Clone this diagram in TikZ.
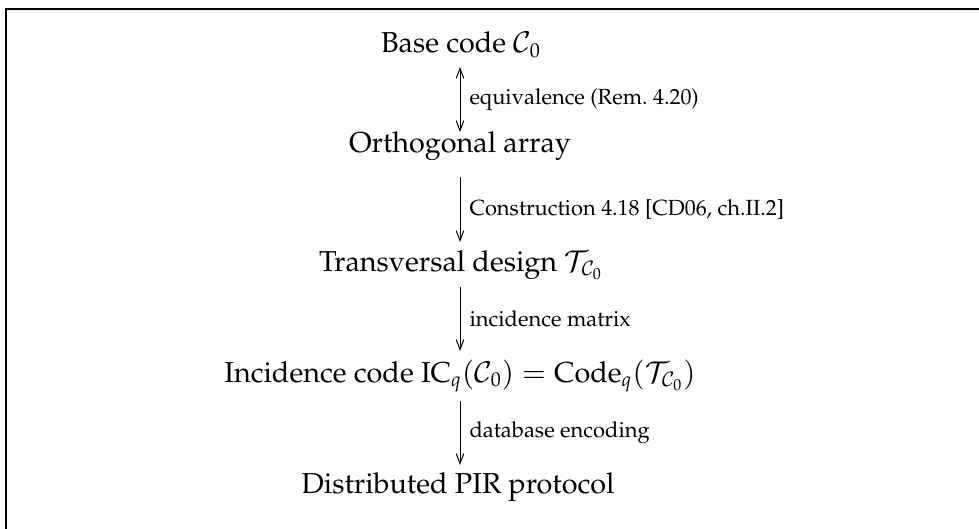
\documentclass[tikz,border=0pt]{standalone}
\usepackage[T1]{fontenc}
\usepackage{mathpazo}
\usetikzlibrary{arrows.meta}
\begin{document}
\begin{tikzpicture}[x=0.5pt,y=-0.5pt, >={Straight Barb[length=5pt,width=3.8pt]},
  obj/.style={inner sep=0pt, anchor=base, font=\fontsize{14.4}{17}\selectfont},
  lbl/.style={right, inner sep=0pt, xshift=4.5pt, font=\fontsize{10.95}{13}\selectfont},
  arr/.style={->, line width=0.5pt}]
\useasboundingbox (0,0) rectangle (979,529);
\draw[line width=0.9pt] (979,9) -- (6,9) -- (6,529);
\node[obj] (a) at (461,53) {Base code $\mathcal{C}_0$};
\node[obj] (b) at (460,153) {Orthogonal array};
\node[obj] (c) at (461,271) {Transversal design $\mathcal{T}_{\mathcal{C}_0}$};
\node[obj] (d) at (460,382) {Incidence code $\mathrm{IC}_q(\mathcal{C}_0)=\mathrm{Code}_q(\mathcal{T}_{\mathcal{C}_0})$};
\node[obj] (e) at (458,493) {Distributed PIR protocol};
\draw[<->, line width=0.5pt] ([yshift=-7pt]a.base -| 460,0) -- node[lbl] {equivalence (Rem.~4.20)} ([yshift=10.5pt]b.base -| 460,0);
\draw[arr] ([yshift=-12pt]b.base -| 460,0) -- node[lbl] {Construction 4.18 [CD06, ch.II.2]} ([yshift=14.5pt]c.base -| 460,0);
\draw[arr] ([yshift=-8pt]c.base -| 460,0) -- node[lbl] {incidence matrix} ([yshift=15.5pt]d.base -| 460,0);
\draw[arr] ([yshift=-9.5pt]d.base -| 460,0) -- node[lbl] {database encoding} ([yshift=14pt]e.base -| 460,0);
\end{tikzpicture}
\end{document}
